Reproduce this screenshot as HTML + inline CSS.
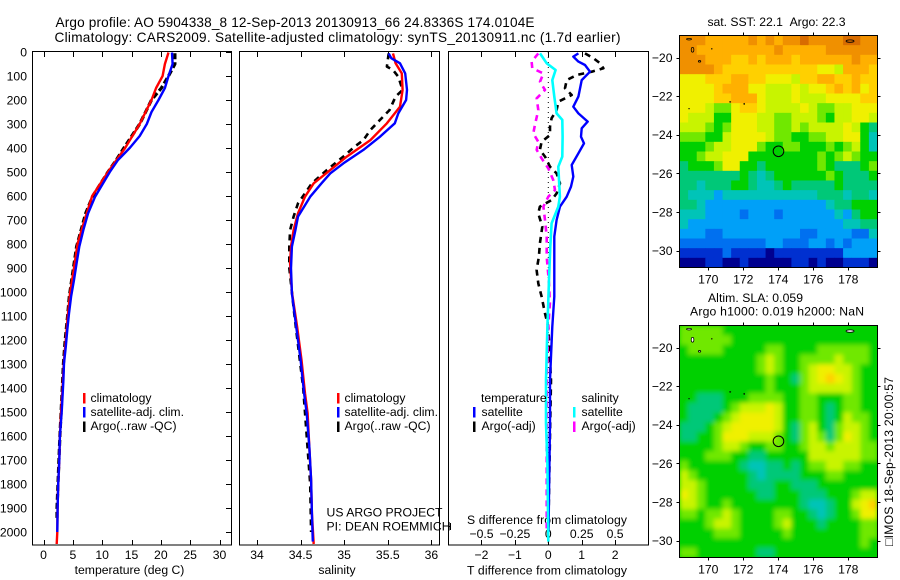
<!DOCTYPE html>
<html><head><meta charset="utf-8"><title>Argo profile</title>
<style>
html,body{margin:0;padding:0;background:#fff;}
svg{display:block;}
text{font-family:"Liberation Sans",sans-serif;font-size:12.2px;fill:#000;}
</style></head>
<body>
<svg id="chart" xmlns="http://www.w3.org/2000/svg" width="900" height="580" viewBox="0 0 900 580">
<rect width="900" height="580" fill="#fff"/>
<defs>
<clipPath id="clip-sst"><rect x="679.5" y="35.5" width="198" height="232"/></clipPath>
<clipPath id="clip-sla"><rect x="679.5" y="325.5" width="198" height="232"/></clipPath>
<filter id="soft" x="-5%" y="-5%" width="110%" height="110%"><feGaussianBlur stdDeviation="2.4"/></filter>
</defs>
<text x="55.5" y="27" textLength="479" style="font-size:13.6px">Argo profile: AO 5904338_8 12-Sep-2013 20130913_66 24.8336S 174.0104E</text>
<text x="54.5" y="42" textLength="566" style="font-size:13.6px">Climatology: CARS2009. Satellite-adjusted climatology: synTS_20130911.nc (1.7d earlier)</text>
<text x="129.5" y="574" text-anchor="middle">temperature (deg C)</text>
<text x="337" y="574" text-anchor="middle">salinity</text>
<text x="467" y="574.5" textLength="160">T difference from climatology</text>
<text x="467" y="524" textLength="160">S difference from climatology</text>
<text x="326.5" y="516.5" textLength="116">US ARGO PROJECT</text>
<text x="326.5" y="530.5" textLength="124">PI: DEAN ROEMMICH</text>
<text x="707.5" y="26" textLength="138">sat. SST: 22.1&#160;&#160;Argo: 22.3</text>
<text x="708" y="302" textLength="95">Altim. SLA: 0.059</text>
<text x="690" y="315.5" textLength="174">Argo h1000: 0.019 h2000: NaN</text>
<text transform="translate(893,546) rotate(-90)" textLength="169">□IMOS 18-Sep-2013 20:00:57</text>
</svg>
<script>
const depthTicks = [0,100,200,300,400,500,600,700,800,900,1000,1100,1200,1300,1400,1500,1600,1700,1800,1900,2000];
const tempTicks = [0,5,10,15,20,25,30];
const salTicks = [34,34.5,35,35.5,36];
const salTickLabels = ['34','34.5','35','35.5','36'];
const tDiffTicks = [-2,-1,0,1,2];
const tDiffLabels = ['−2','−1','0','1','2'];
const sDiffTicks = [-0.5,-0.25,0,0.25,0.5];
const sDiffLabels = ['−0.5','−0.25','0','0.25','0.5'];
const latTicks = [-20,-22,-24,-26,-28,-30];
const latLabels = ['−20','−22','−24','−26','−28','−30'];
const lonTicks = [170,172,174,176,178];

const tempClimDepth = [2,50,100,150,200,300,400,500,600,700,800,900,1000,1100,1200,1300,1400,1500,1600,1700,1800,1900,2000,2050];
const tempClim = [21.3,20.7,20.3,19.2,18.4,16.4,13.9,11.0,8.3,7.0,5.8,5.2,4.55,4.15,3.8,3.45,3.25,3.0,2.8,2.7,2.5,2.4,2.35,2.25];
const tempSatDepth = [2,50,100,150,200,250,300,350,400,450,500,533,603,672,741,811,880,950,1019,1089,1158,1228,1297,1367,1500,1600,1700,1800,1900,2000];
const tempSat = [21.9,22.0,21.3,20.7,19.6,18.4,17.6,16.4,14.7,12.7,11.3,10.5,8.8,7.6,6.8,6.1,5.65,5.2,4.7,4.35,4.05,3.8,3.5,3.4,3.1,2.8,2.7,2.5,2.4,2.35];
const tempArgoDepth = [5,50,100,150,200,300,400,450,500,600,672,811,950,1019,1100,1200,1300,1400,1600,1900,1950];
const tempArgo = [22.4,22.4,21.3,20.1,18.4,16.4,13.7,12.4,11.0,8.4,7.2,5.65,4.8,4.4,4.1,3.7,3.4,3.2,2.8,2.3,2.3];

const salClimDepth = [6,47,89,158,228,297,367,436,492,547,603,672,742,811,881,1000,1144,1283,1422,1505,1644,1783,1922,2050];
const salClim = [35.56,35.59,35.66,35.67,35.64,35.49,35.30,35.03,34.84,34.65,34.55,34.47,34.42,34.39,34.38,34.40,34.46,34.51,34.55,34.58,34.60,34.62,34.63,34.65];
const salSatDepth = [6,26,47,89,158,200,256,297,353,408,464,506,547,603,686,742,811,901,1006,1144,1283,1422,1505,1644,1783,1922,2040];
const salSat = [35.51,35.54,35.64,35.70,35.72,35.71,35.62,35.58,35.41,35.22,34.99,34.84,34.74,34.61,34.47,34.44,34.40,34.39,34.40,34.45,34.50,34.54,34.57,34.60,34.62,34.63,34.64];
const salArgoDepth = [6,61,75,103,158,186,242,283,325,367,394,436,492,547,631,686,742,811,900,1100,1400,1800,2000];
const salArgo = [35.51,35.49,35.56,35.62,35.67,35.59,35.52,35.41,35.30,35.22,35.12,34.99,34.80,34.63,34.47,34.42,34.38,34.37,34.37,34.43,34.53,34.61,34.62];

const tDiffSatDepth = [6,19,40,54,82,117,186,228,256,290,318,353,381,422,471,519,561,603,644,700,769,881,1019,1144,1367,1547,1839,2000];
const tDiffSat = [0.90,0.75,0.90,1.10,1.25,1.00,0.90,0.75,0.90,1.18,1.00,0.98,1.07,0.90,0.70,0.75,0.68,0.55,0.35,0.25,0.18,0.18,0.18,0.12,0.05,0.05,0.02,0.01];
const tDiffArgoDepth = [6,26,47,68,82,96,117,151,179,207,242,276,311,346,374,408,436,478,506,547,589,617,644,672,728,797,853,908,964,1019,1089,1144,1367,1600,1839,2000];
const tDiffArgo = [1.10,1.35,1.55,1.65,1.30,0.85,0.55,0.50,0.70,0.30,0.25,0.10,0.05,0.05,-0.20,-0.25,-0.10,0.05,0.25,0.35,0.25,0.10,-0.25,-0.30,-0.18,-0.25,-0.28,-0.35,-0.30,-0.20,-0.10,0,0.08,0.05,0.02,0];
const sDiffSatDepth = [6,47,75,117,186,256,283,353,436,478,603,644,714,811,950,1144,1367,1547,1713,2040];
const sDiffSat = [-0.062,-0.012,0.055,0.03,0.045,0.062,0.105,0.107,0.105,0.075,0.087,0.075,0.025,0.015,0.005,-0.007,-0.017,-0.017,-0.007,0];
const sDiffArgoDepth = [6,40,68,89,124,158,193,242,304,339,374,408,443,485,533,575,603,644,700,769,853,964,1047,1144,1367,1800,2000];
const sDiffArgo = [-0.075,-0.125,-0.12,-0.037,-0.062,-0.025,-0.087,-0.075,-0.10,-0.112,-0.075,-0.087,-0.05,0,0.037,0.05,0,-0.037,-0.025,-0.012,-0.012,0.005,0.012,0,-0.012,-0.012,-0.012];

const colorLevels = ['#00008f','#0030d0','#0070f0','#00a0f8','#00c4b8','#00c878','#00d000','#70e800','#c8f400','#f0f000','#ffd000','#ffb000','#f09000','#d86c00'];
const sstGrid = [
[12,12,12,11,11,11,11,11,12,11,12,11,12,12,13,12,12,12,12,13,13,12,12],
[12,12,11,11,11,11,11,11,11,11,11,12,11,11,11,11,11,12,12,12,12,12,12],
[12,12,12,11,11,11,10,10,11,10,11,11,11,10,11,11,11,11,11,11,12,11,11],
[12,12,12,12,11,10,10,10,10,10,10,10,10,10,10,10,9,9,8,11,11,11,10],
[9,9,9,10,10,10,11,11,10,10,9,9,9,8,10,10,11,11,10,10,11,10,10],
[9,9,9,9,10,11,11,11,9,9,8,8,8,9,8,9,9,10,11,10,11,9,10],
[9,9,9,9,10,10,11,11,11,9,8,8,8,9,8,8,8,9,9,9,9,10,10],
[9,9,9,8,7,7,9,10,10,9,8,8,8,8,9,8,7,7,8,8,9,9,9],
[9,8,8,8,6,6,9,9,9,8,8,7,7,8,8,8,7,6,8,8,9,9,8],
[8,8,8,7,6,7,9,9,9,8,8,7,7,8,7,8,8,8,8,9,8,6,5],
[7,7,7,6,6,8,9,9,9,9,8,7,7,6,6,7,7,8,8,9,9,6,4],
[6,6,6,7,8,8,9,9,9,7,6,6,7,7,6,6,6,7,6,7,8,6,4],
[6,6,7,8,8,9,9,9,6,6,6,6,6,6,6,6,7,6,7,8,7,6,6],
[5,6,6,6,7,9,9,6,6,5,6,6,6,6,6,6,7,6,5,5,5,6,7],
[5,5,5,5,5,5,5,6,5,4,5,6,6,6,6,6,6,7,6,5,5,5,6],
[5,5,4,5,5,5,6,6,5,4,4,5,6,5,5,5,5,5,6,5,5,5,5],
[5,4,4,4,3,4,4,4,4,4,4,4,4,4,4,4,5,5,5,4,5,5,4],
[5,5,4,3,3,3,3,3,3,3,3,3,3,3,3,3,3,4,5,5,6,6,6],
[4,4,4,3,3,3,3,2,3,3,3,2,3,3,3,3,3,3,4,3,5,6,6],
[4,3,3,3,3,3,3,3,3,3,3,3,3,3,3,3,3,3,3,4,4,5,5],
[3,3,3,2,2,3,3,3,3,3,3,3,3,3,2,2,3,3,3,3,2,2,4],
[2,2,2,2,2,2,2,2,2,2,3,3,2,2,2,3,3,2,3,2,3,3,3],
[1,1,1,1,1,2,1,1,1,1,0,1,1,1,1,1,1,1,1,3,3,3,3],
[0,0,0,1,1,0,0,1,0,0,0,0,0,1,1,0,1,0,0,1,1,1,0]
];
const slaGrid = [
[7,7,7,7,7,6,6,6,6,6,6,6,6,6,6,6,6,6,6,6,6,6,6],
[7,7,7,7,7,7,6,6,6,6,6,6,6,6,6,6,6,6,6,6,6,6,6],
[6,7,7,7,7,6,6,6,6,6,7,7,6,6,6,6,7,7,7,7,7,7,6],
[6,6,6,6,6,6,6,6,6,7,8,7,6,6,7,7,7,7,8,7,7,7,6],
[6,6,6,6,6,6,6,6,6,7,8,7,6,6,7,8,9,9,8,8,7,6,6],
[6,6,6,6,6,6,6,6,6,6,7,6,6,5,7,8,9,10,9,8,7,6,6],
[6,6,6,6,6,6,6,6,6,6,7,6,6,6,7,8,8,8,8,8,7,6,6],
[6,6,5,5,5,6,6,6,7,7,7,7,6,6,7,7,6,6,6,7,7,6,6],
[6,5,5,5,5,6,7,8,8,8,9,8,6,6,7,7,6,5,6,7,7,6,6],
[6,5,5,5,6,7,8,9,9,9,9,8,6,6,7,7,6,5,6,8,7,7,6],
[5,5,5,6,7,8,9,9,9,9,9,8,6,5,7,8,6,5,7,8,8,7,6],
[5,5,6,6,7,9,9,9,8,8,8,7,6,5,7,8,7,5,7,9,8,7,6],
[6,6,6,6,7,8,8,7,6,6,7,7,6,6,7,8,8,7,8,8,8,7,7],
[6,6,6,7,7,7,6,6,5,5,6,6,6,6,6,8,8,8,8,8,8,7,7],
[7,6,6,6,6,6,6,5,4,4,5,5,6,5,6,7,7,8,8,7,7,6,6],
[8,7,6,6,6,6,6,6,5,4,5,5,5,5,6,6,6,7,7,6,6,6,6],
[8,8,7,6,6,6,6,6,5,5,5,6,6,5,5,5,6,6,6,6,6,6,6],
[9,8,7,6,6,6,6,6,6,5,5,6,6,6,5,5,5,6,6,6,7,8,8],
[8,8,7,6,6,7,6,6,6,6,6,6,6,6,5,4,4,5,6,6,8,9,10],
[7,7,6,7,7,8,7,6,6,6,6,7,7,6,6,5,4,5,6,6,7,9,9],
[6,6,6,7,8,8,7,6,6,6,6,7,8,6,6,6,5,6,6,6,6,7,7],
[6,6,6,6,7,7,7,6,6,6,6,6,7,6,6,6,6,6,6,6,6,7,7],
[6,6,6,6,6,6,6,6,6,6,6,6,6,6,6,6,6,6,6,6,6,7,6],
[7,7,6,6,6,6,6,6,6,5,5,6,6,6,6,6,6,6,6,6,6,6,6]
];
const floatLon = 174.0104;
const floatLat = -24.8336;
const islandLons = [168.9,169.1,169.5,170.2,178.1,171.25,172.05,168.9];
const islandLats = [-19.05,-19.6,-20.2,-19.55,-19.15,-22.3,-22.4,-22.65];
const islandRx = [2.5,1.3,1.2,0.3,4,0.6,0.3,0.3];
const islandRy = [0.8,2.4,0.8,0.3,1.2,0.3,0.6,0.3];

const svg = document.getElementById('chart');
const NS = 'http://www.w3.org/2000/svg';
function mk(tag, attrs, parent){
  const e = document.createElementNS(NS, tag);
  for (const k in attrs) e.setAttribute(k, attrs[k]);
  (parent || svg).appendChild(e);
  return e;
}
const TOP = 52, BOTTOM = 545;
function yDepth(d){ return 52 + d * 0.24; }
function xTemp(v){ return 43.5 + v * 5.867; }
function xSal(v){ return 257 + (v - 34) * 87.2; }
function xTDiff(v){ return 548.3 + v * 33.4; }
function xSDiff(v){ return 548.3 + v * 133.6; }
function pathOf(xs, ds, xf){
  return xs.map(function(v, i){ return (i ? 'L' : 'M') + xf(v).toFixed(1) + ' ' + yDepth(ds[i]).toFixed(1); }).join('');
}
function frame(x0, x1, name){
  const r = mk('rect', {x:x0, y:TOP - 0.5, width:x1 - x0, height:BOTTOM - TOP + 0.5, fill:'none', stroke:'#000', 'stroke-width':1, 'shape-rendering':'crispEdges'});
  
  
}
function vtick(x, y0, y1, name){
  const t = mk('line', {x1:x, x2:x, y1:y0, y2:y1, stroke:'#000', 'stroke-width':1, 'shape-rendering':'crispEdges'});
  
  
}
function htick(y, x0, x1, name){
  const t = mk('line', {y1:y, y2:y, x1:x0, x2:x1, stroke:'#000', 'stroke-width':1, 'shape-rendering':'crispEdges'});
  
  
}
function label(x, y, s, anchor, name){
  const t = mk('text', {x:x, y:y, 'text-anchor':anchor});
  t.textContent = s;
  
  
}
function series(xs, ds, xf, color, width, dash, name){
  const attrs = {d:pathOf(xs, ds, xf), fill:'none', stroke:color, 'stroke-width':width, 'stroke-linejoin':'round'};
  if (dash) attrs['stroke-dasharray'] = dash;
  const p = mk('path', attrs);
  
  
}
function swatch(x, y, color, name){
  const r = mk('rect', {x:x, y:y, width:2.5, height:10.5, fill:color});
  
  
}

/* profile panels */
frame(32.5, 231.5, 'temperature-panel-frame');
frame(239.5, 439.5, 'salinity-panel-frame');
frame(448.5, 648.5, 'difference-panel-frame');

depthTicks.forEach(function(d){
  htick(Math.round(yDepth(d)) + 0.5, 226, 231, 'depth-tick');
  label(27, yDepth(d) + 4.5, String(d), 'end', 'depth-tick-label');
});
tempTicks.forEach(function(v){
  const x = Math.round(xTemp(v)) + 0.5;
  vtick(x, TOP, TOP + 5, 'temperature-top-tick');
  vtick(x, BOTTOM - 5, BOTTOM, 'temperature-bottom-tick');
  label(xTemp(v), 559, String(v), 'middle', 'temperature-tick-label');
});
salTicks.forEach(function(v, i){
  const x = Math.round(xSal(v)) + 0.5;
  vtick(x, TOP, TOP + 5, 'salinity-top-tick');
  vtick(x, BOTTOM - 5, BOTTOM, 'salinity-bottom-tick');
  label(xSal(v), 559, salTickLabels[i], 'middle', 'salinity-tick-label');
});
tDiffTicks.forEach(function(v, i){
  const x = Math.round(xTDiff(v)) + 0.5;
  vtick(x, TOP, TOP + 5, 'difference-top-tick');
  vtick(x, BOTTOM - 5, BOTTOM, 'difference-bottom-tick');
  label(xTDiff(v), 559, tDiffLabels[i], 'middle', 't-difference-tick-label');
});
sDiffTicks.forEach(function(v, i){
  label(xSDiff(v), 538, sDiffLabels[i], 'middle', 's-difference-tick-label');
});
htick(526.5, 448.5, 451, 'difference-side-tick');
vtick(450.5, 523, 530, 'difference-side-tick-cap');

const zeroLine = mk('line', {x1:xTDiff(0), x2:xTDiff(0), y1:TOP, y2:BOTTOM, stroke:'#000', 'stroke-width':1, 'stroke-dasharray':'1 4'});



series(tempArgo, tempArgoDepth, xTemp, '#000', 3.2, '6 3', 'temperature-argo-line');
series(tempClim, tempClimDepth, xTemp, '#f00', 2.4, '', 'temperature-climatology-line');
series(tempSat, tempSatDepth, xTemp, '#00f', 2.4, '', 'temperature-satellite-line');

series(salArgo, salArgoDepth, xSal, '#000', 2.6, '6 5', 'salinity-argo-line');
series(salClim, salClimDepth, xSal, '#f00', 2.4, '', 'salinity-climatology-line');
series(salSat, salSatDepth, xSal, '#00f', 2.4, '', 'salinity-satellite-line');

series(tDiffArgo, tDiffArgoDepth, xTDiff, '#000', 2.6, '6 5', 't-difference-argo-line');
series(tDiffSat, tDiffSatDepth, xTDiff, '#00f', 2.4, '', 't-difference-satellite-line');
series(sDiffArgo, sDiffArgoDepth, xSDiff, '#f0f', 2.6, '6 5', 's-difference-argo-line');
series(sDiffSat, sDiffSatDepth, xSDiff, '#0ff', 2.6, '', 's-difference-satellite-line');

/* legends */
swatch(83, 393, '#f00', 'legend-swatch-climatology');
swatch(83, 407, '#00f', 'legend-swatch-satellite');
swatch(83, 421.5, '#000', 'legend-swatch-argo');
label(90.5, 402, 'climatology', 'start', 'legend-entry-climatology');
label(90.5, 416, 'satellite-adj. clim.', 'start', 'legend-entry-satellite');
label(90.5, 430, 'Argo(..raw -QC)', 'start', 'legend-entry-argo');
swatch(337, 393, '#f00', 'legend-swatch-climatology');
swatch(337, 407, '#00f', 'legend-swatch-satellite');
swatch(337, 421.5, '#000', 'legend-swatch-argo');
label(344.5, 402, 'climatology', 'start', 'legend-entry-climatology');
label(344.5, 416, 'satellite-adj. clim.', 'start', 'legend-entry-satellite');
label(344.5, 430, 'Argo(..raw -QC)', 'start', 'legend-entry-argo');
label(481, 402, 'temperature', 'start', 'legend-heading-temperature');
swatch(473, 407, '#00f', 'legend-swatch-t-satellite');
label(481.5, 416, 'satellite', 'start', 'legend-entry-t-satellite');
swatch(473, 421.5, '#000', 'legend-swatch-t-argo');
label(481.5, 430, 'Argo(-adj)', 'start', 'legend-entry-t-argo');
label(581.5, 402, 'salinity', 'start', 'legend-heading-salinity');
swatch(573, 407, '#0ff', 'legend-swatch-s-satellite');
label(581.5, 416, 'satellite', 'start', 'legend-entry-s-satellite');
swatch(573, 421.5, '#f0f', 'legend-swatch-s-argo');
label(581.5, 430, 'Argo(-adj)', 'start', 'legend-entry-s-argo');

/* maps */
function xLon(v){ return 708.3 + (v - 170) * 17.5; }
function yLat(v, top){ return top + 22 + (-20 - v) * 19.3; }
function drawMap(grid, top, clipId, blur, name){
  const x0 = 679.5, w = 198, h = 232;
  const g0 = mk('g', {'clip-path':'url(#' + clipId + ')'});
  
  
  const back = mk('rect', {x:x0, y:top, width:w, height:h, fill:colorLevels[6]}, g0);
  
  
  const g = mk('g', blur ? {filter:'url(#soft)'} : {}, g0);
  
  
  const cw = w / grid[0].length, ch = h / grid.length;
  grid.forEach(function(row, i){
    row.forEach(function(v, j){
      const c = mk('rect', {x:(x0 + j * cw).toFixed(2), y:(top + i * ch).toFixed(2), width:(cw + 0.4).toFixed(2), height:(ch + 0.4).toFixed(2), fill:colorLevels[Math.max(0, Math.min(colorLevels.length - 1, Math.round(v)))]}, g);
      
      
    });
  });
  islandLons.forEach(function(lon, k){
    const isl = mk('ellipse', {cx:xLon(lon), cy:yLat(islandLats[k], top), rx:islandRx[k], ry:islandRy[k], fill:blur ? '#fff' : 'none', stroke:'#000', 'stroke-width':0.8}, g0);
    
    
  });
  const fr = mk('rect', {x:x0, y:top, width:w, height:h, fill:'none', stroke:'#000', 'stroke-width':1, 'shape-rendering':'crispEdges'});
  
  
  latTicks.forEach(function(v, i){
    const y = Math.round(yLat(v, top)) + 0.5;
    htick(y, x0 - 3, x0, 'latitude-tick');
    htick(y, x0 + w, x0 + w + 3, 'latitude-tick');
    label(672.5, yLat(v, top) + 4.5, latLabels[i], 'end', 'latitude-tick-label');
  });
  lonTicks.forEach(function(v){
    const x = Math.round(xLon(v)) + 0.5;
    vtick(x, top - 3, top, 'longitude-tick');
    vtick(x, top + h, top + h + 3, 'longitude-tick');
    label(xLon(v), top + 248, String(v), 'middle', 'longitude-tick-label');
  });
  const mark = mk('circle', {cx:xLon(floatLon), cy:yLat(floatLat, top) + 0.5, r:5.3, fill:'none', stroke:'#000', 'stroke-width':1});
  
  
}
drawMap(sstGrid, 35.5, 'clip-sst', false, 'sst-map');
drawMap(slaGrid, 325.5, 'clip-sla', true, 'sla-map');
</script>
</body></html>
